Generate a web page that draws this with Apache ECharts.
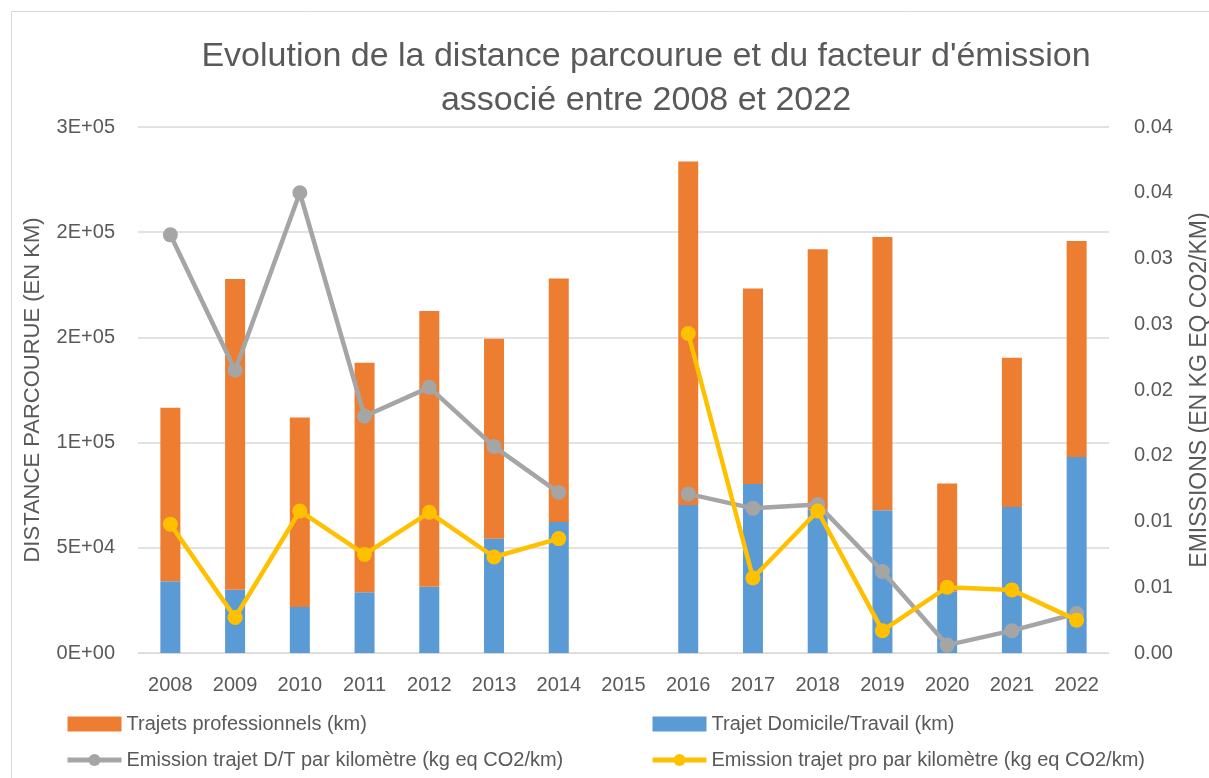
<!DOCTYPE html>
<html>
<head>
<meta charset="utf-8">
<script src="https://cdn.jsdelivr.net/npm/echarts@6/dist/echarts.min.js"></script>
<style>
html,body{margin:0;padding:0;background:#fff;overflow:hidden;}
#chart{width:1209px;height:778px;}
</style>
</head>
<body>
<div id="chart"></div>
<script>
const categories = ['2008','2009','2010','2011','2012','2013','2014','2015','2016','2017','2018','2019','2020','2021','2022'];
const trajetDomicileTravail = [34100, 30100, 21900, 28900, 31500, 54300, 62300, null, 70400, 80300, 68200, 67900, 29200, 69400, 93100];
const trajetsProfessionnels = [82500, 147600, 90000, 109000, 131000, 95000, 115700, null, 163200, 93000, 123700, 129800, 51400, 70900, 102700];
const emissionDT = [0.0318, 0.0215, 0.0350, 0.0180, 0.0202, 0.0157, 0.0122, null, 0.0121, 0.0110, 0.0113, 0.0062, 0.0006, 0.0017, 0.0030];
const emissionPro = [0.0098, 0.0027, 0.0108, 0.0075, 0.0107, 0.0073, 0.0087, null, 0.0243, 0.0057, 0.0108, 0.0017, 0.0050, 0.0048, 0.0025];

const names = {
  pro: 'Trajets professionnels (km)',
  dt: 'Trajet Domicile/Travail (km)',
  eDT: 'Emission trajet D/T par kilomètre (kg eq CO2/km)',
  ePro: 'Emission trajet pro par kilomètre (kg eq CO2/km)'
};

const FONT = '"Liberation Sans", Arial, sans-serif';
const GREY_TEXT = '#595959';

function sci(v) {
  if (v === 0) return '0E+00';
  let e = Math.floor(Math.log10(v) + 1e-9);
  let m = Math.round(v / Math.pow(10, e) + 1e-9);
  if (m >= 10) { m = 1; e += 1; }
  return m + 'E+' + (e < 10 ? '0' + e : '' + e);
}
function fix2(v) {
  return (Math.round(v * 100 + 1e-6) / 100).toFixed(2);
}

const legendBase = {
  orient: 'vertical', top: 709, itemWidth: 54, itemHeight: 15, itemGap: 16,
  textStyle: {fontSize: 20, color: GREY_TEXT, fontFamily: FONT},
  lineStyle: {width: 5}
};

const chart = echarts.init(document.getElementById('chart'), null, {renderer: 'canvas'});
chart.setOption({
  animation: false,
  backgroundColor: '#ffffff',
  textStyle: {fontFamily: FONT},
  graphic: [
    {type: 'rect', shape: {x: 11.5, y: 11.5, width: 1400, height: 1000}, style: {fill: 'none', stroke: '#d9d9d9', lineWidth: 1}, silent: true},
    {type: 'text', x: 646, y: 57, style: {text: "Evolution de la distance parcourue et du facteur d'émission", fill: GREY_TEXT, font: '34px ' + FONT, textAlign: 'center', textVerticalAlign: 'middle'}},
    {type: 'text', x: 646, y: 101, style: {text: 'associé entre 2008 et 2022', fill: GREY_TEXT, font: '34px ' + FONT, textAlign: 'center', textVerticalAlign: 'middle'}}
  ],
  grid: {left: 138, right: 100, top: 127, bottom: 125, containLabel: false, outerBoundsMode: 'none'},
  legend: [
    Object.assign({}, legendBase, {left: 60, data: [{name: names.pro, icon: 'rect'}, names.eDT]}),
    Object.assign({}, legendBase, {left: 645, data: [{name: names.dt, icon: 'rect'}, names.ePro]})
  ],
  xAxis: {
    type: 'category',
    data: categories,
    axisLine: {lineStyle: {color: '#d9d9d9', width: 1}},
    axisTick: {show: false},
    axisLabel: {color: GREY_TEXT, fontSize: 20, margin: 22, fontFamily: FONT}
  },
  yAxis: [
    {
      type: 'value', min: 0, max: 250000, interval: 50000,
      name: 'DISTANCE PARCOURUE (EN KM)', nameLocation: 'middle', nameGap: 94, nameRotate: 90,
      nameTextStyle: {color: GREY_TEXT, fontSize: 22, fontFamily: FONT},
      axisLine: {show: false}, axisTick: {show: false},
      axisLabel: {color: GREY_TEXT, fontSize: 20, margin: 23, formatter: sci, fontFamily: FONT},
      splitLine: {lineStyle: {color: '#d9d9d9', width: 1.5}}
    },
    {
      type: 'value', min: 0, max: 0.04, interval: 0.005,
      name: 'EMISSIONS (EN KG EQ CO2/KM)', nameLocation: 'middle', nameGap: 79, nameRotate: 90,
      nameTextStyle: {color: GREY_TEXT, fontSize: 23, fontFamily: FONT},
      axisLine: {show: false}, axisTick: {show: false},
      axisLabel: {color: GREY_TEXT, fontSize: 20, margin: 25, formatter: fix2, fontFamily: FONT},
      splitLine: {show: false}
    }
  ],
  series: [
    {
      name: names.dt, type: 'bar', stack: 'km', yAxisIndex: 0, barWidth: 20,
      itemStyle: {color: '#5B9BD5'}, data: trajetDomicileTravail
    },
    {
      name: names.pro, type: 'bar', stack: 'km', yAxisIndex: 0, barWidth: 20,
      itemStyle: {color: '#ED7D31'}, data: trajetsProfessionnels
    },
    {
      name: names.eDT, type: 'line', yAxisIndex: 1, symbol: 'circle', symbolSize: 15,
      lineStyle: {color: '#A5A5A5', width: 4.5}, itemStyle: {color: '#A5A5A5'},
      connectNulls: false, data: emissionDT, z: 3
    },
    {
      name: names.ePro, type: 'line', yAxisIndex: 1, symbol: 'circle', symbolSize: 15,
      lineStyle: {color: '#FFC000', width: 4.5}, itemStyle: {color: '#FFC000'},
      connectNulls: false, data: emissionPro, z: 4
    }
  ]
});
</script>
</body>
</html>
